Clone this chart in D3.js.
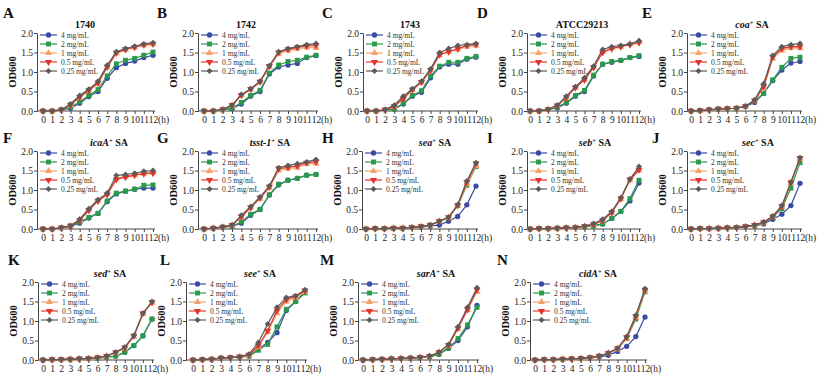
<!DOCTYPE html>
<html><head><meta charset="utf-8">
<script src="https://cdn.jsdelivr.net/npm/d3@7"></script>
<style>
body{margin:0;background:#fff;}
svg{display:block;font-family:"Liberation Serif","Times New Roman",serif;}
</style></head><body><div id="chart_wrapper"></div>
<script>
var hours = [0,1,2,3,4,5,6,7,8,9,10,11,12];
var doses = ["4 mg/mL","2 mg/mL","1 mg/mL","0.5 mg/mL","0.25 mg/mL"];
var yTicks = [0,0.5,1.0,1.5,2.0];

// rows follow doses order: 4, 2, 1, 0.5, 0.25 mg/mL
var od_1740 = [
  [0,0,0.03,0.07,0.2,0.37,0.5,0.84,1.11,1.22,1.28,1.37,1.43],
  [0,0,0.03,0.1,0.23,0.4,0.55,0.9,1.21,1.3,1.35,1.43,1.51],
  [0,0,0.03,0.15,0.35,0.52,0.7,1.12,1.48,1.57,1.63,1.69,1.71],
  [0,0,0.03,0.16,0.36,0.53,0.72,1.13,1.49,1.58,1.64,1.7,1.72],
  [0,0,0.03,0.18,0.4,0.56,0.76,1.17,1.52,1.6,1.66,1.72,1.75]];
var od_1742 = [
  [0,0,0.03,0.06,0.18,0.38,0.5,0.95,1.13,1.18,1.22,1.37,1.42],
  [0,0,0.03,0.07,0.22,0.4,0.53,0.97,1.18,1.27,1.3,1.38,1.43],
  [0,0,0.04,0.14,0.4,0.55,0.74,1.13,1.47,1.55,1.6,1.63,1.62],
  [0,0,0.04,0.15,0.41,0.56,0.75,1.15,1.5,1.58,1.63,1.67,1.68],
  [0,0,0.04,0.15,0.42,0.57,0.76,1.16,1.52,1.6,1.65,1.7,1.73]];
var od_1743 = [
  [0,0,0.03,0.05,0.18,0.38,0.48,0.85,1.13,1.2,1.2,1.33,1.38],
  [0,0,0.03,0.05,0.2,0.4,0.52,0.9,1.15,1.25,1.25,1.35,1.4],
  [0,0,0.03,0.12,0.31,0.54,0.73,1.04,1.43,1.52,1.58,1.65,1.68],
  [0,0,0.03,0.12,0.32,0.55,0.74,1.05,1.45,1.52,1.6,1.68,1.7],
  [0,0,0.03,0.15,0.38,0.57,0.76,1.08,1.5,1.6,1.68,1.7,1.73]];
var od_atcc = [
  [0,0,0.04,0.08,0.2,0.38,0.5,0.9,1.2,1.25,1.3,1.37,1.4],
  [0,0,0.04,0.1,0.22,0.4,0.53,0.92,1.2,1.27,1.3,1.37,1.42],
  [0,0,0.04,0.14,0.35,0.6,0.8,1.12,1.52,1.62,1.65,1.72,1.78],
  [0,0,0.04,0.14,0.35,0.6,0.8,1.12,1.5,1.6,1.65,1.7,1.75],
  [0,0,0.04,0.15,0.38,0.62,0.85,1.15,1.58,1.65,1.68,1.72,1.8]];
var od_coa = [
  [0,0.01,0.03,0.05,0.06,0.07,0.12,0.22,0.45,0.78,1.05,1.23,1.27],
  [0,0.01,0.03,0.05,0.06,0.07,0.12,0.25,0.45,0.8,1.12,1.35,1.38],
  [0,0.01,0.03,0.05,0.06,0.07,0.12,0.27,0.6,1.35,1.55,1.62,1.62],
  [0,0.01,0.03,0.05,0.06,0.07,0.12,0.27,0.63,1.38,1.6,1.65,1.65],
  [0,0.01,0.03,0.05,0.06,0.07,0.12,0.28,0.7,1.42,1.65,1.7,1.73]];
var od_icaA = [
  [0,0,0.03,0.07,0.15,0.28,0.4,0.7,0.9,0.97,1.02,1.05,1.05],
  [0,0,0.03,0.08,0.17,0.3,0.4,0.72,0.92,0.97,1.02,1.12,1.13],
  [0,0,0.03,0.08,0.23,0.5,0.73,0.9,1.3,1.35,1.38,1.42,1.45],
  [0,0,0.03,0.08,0.22,0.48,0.72,0.88,1.27,1.33,1.38,1.42,1.43],
  [0,0,0.03,0.08,0.25,0.52,0.75,0.92,1.37,1.4,1.43,1.48,1.5]];
var od_tsst = [
  [0,0.02,0.05,0.07,0.15,0.35,0.5,0.87,1.13,1.25,1.3,1.38,1.4],
  [0,0.02,0.05,0.07,0.18,0.38,0.5,0.88,1.15,1.25,1.3,1.38,1.4],
  [0,0.02,0.05,0.1,0.3,0.55,0.78,1.05,1.5,1.55,1.57,1.67,1.68],
  [0,0.02,0.05,0.1,0.32,0.55,0.8,1.08,1.55,1.58,1.62,1.7,1.72],
  [0,0.02,0.05,0.1,0.35,0.58,0.82,1.1,1.57,1.63,1.67,1.72,1.78]];
var od_sea = [
  [0,0.01,0.01,0.02,0.02,0.04,0.05,0.08,0.1,0.2,0.32,0.62,1.1],
  [0,0.01,0.01,0.02,0.02,0.04,0.06,0.1,0.2,0.28,0.6,1.12,1.6],
  [0,0.01,0.01,0.02,0.02,0.04,0.06,0.1,0.2,0.29,0.6,1.15,1.62],
  [0,0.01,0.01,0.02,0.02,0.04,0.06,0.1,0.2,0.3,0.61,1.2,1.68],
  [0,0.01,0.01,0.02,0.02,0.04,0.06,0.1,0.2,0.3,0.62,1.23,1.7]];
var od_seb = [
  [0,0.01,0.01,0.02,0.03,0.04,0.06,0.08,0.13,0.27,0.45,0.72,1.18],
  [0,0.01,0.01,0.02,0.03,0.04,0.06,0.08,0.13,0.27,0.45,0.78,1.25],
  [0,0.01,0.01,0.02,0.03,0.04,0.07,0.12,0.22,0.42,0.77,1.25,1.5],
  [0,0.01,0.01,0.02,0.03,0.04,0.07,0.12,0.22,0.42,0.78,1.27,1.52],
  [0,0.01,0.01,0.02,0.03,0.04,0.07,0.14,0.25,0.45,0.8,1.28,1.6]];
var od_sec = [
  [0,0.01,0.01,0.02,0.03,0.04,0.06,0.08,0.13,0.25,0.38,0.6,1.17],
  [0,0.01,0.01,0.02,0.03,0.04,0.06,0.08,0.15,0.3,0.52,1.05,1.7],
  [0,0.01,0.01,0.02,0.03,0.04,0.06,0.1,0.17,0.32,0.57,1.18,1.8],
  [0,0.01,0.01,0.02,0.03,0.04,0.06,0.1,0.17,0.32,0.58,1.2,1.82],
  [0,0.01,0.01,0.02,0.03,0.04,0.06,0.1,0.18,0.33,0.6,1.2,1.83]];
var od_sed = [
  [0,0.01,0.01,0.02,0.03,0.04,0.05,0.07,0.1,0.2,0.37,0.62,1.05],
  [0,0.01,0.01,0.02,0.03,0.04,0.05,0.07,0.1,0.2,0.37,0.62,1.05],
  [0,0.01,0.01,0.02,0.03,0.04,0.06,0.1,0.18,0.3,0.6,1.18,1.47],
  [0,0.01,0.01,0.02,0.03,0.04,0.06,0.1,0.2,0.32,0.62,1.2,1.48],
  [0,0.01,0.01,0.02,0.03,0.04,0.06,0.1,0.2,0.33,0.63,1.2,1.5]];
var od_see = [
  [0,0.01,0.02,0.05,0.06,0.08,0.1,0.28,0.45,0.7,1.27,1.5,1.75],
  [0,0.01,0.02,0.05,0.06,0.08,0.1,0.25,0.4,0.85,1.3,1.5,1.72],
  [0,0.01,0.02,0.05,0.06,0.08,0.12,0.33,0.72,1.2,1.5,1.6,1.75],
  [0,0.01,0.02,0.05,0.06,0.08,0.13,0.37,0.75,1.27,1.55,1.63,1.78],
  [0,0.01,0.02,0.05,0.06,0.08,0.15,0.45,0.92,1.35,1.6,1.65,1.8]];
var od_sarA = [
  [0,0.01,0.02,0.03,0.04,0.05,0.06,0.08,0.15,0.3,0.5,0.85,1.4],
  [0,0.01,0.02,0.03,0.04,0.05,0.06,0.08,0.15,0.3,0.55,0.9,1.35],
  [0,0.01,0.02,0.03,0.04,0.05,0.07,0.1,0.2,0.37,0.8,1.28,1.75],
  [0,0.01,0.02,0.03,0.04,0.05,0.07,0.1,0.2,0.38,0.82,1.3,1.8],
  [0,0.01,0.02,0.03,0.04,0.05,0.07,0.1,0.2,0.4,0.85,1.35,1.85]];
var od_cidA = [
  [0,0.01,0.01,0.02,0.03,0.04,0.05,0.08,0.12,0.22,0.35,0.6,1.1],
  [0,0.01,0.01,0.02,0.03,0.04,0.06,0.1,0.17,0.28,0.55,1.05,1.75],
  [0,0.01,0.01,0.02,0.03,0.04,0.06,0.1,0.18,0.28,0.55,1.1,1.78],
  [0,0.01,0.01,0.02,0.03,0.04,0.06,0.1,0.18,0.3,0.58,1.12,1.8],
  [0,0.01,0.01,0.02,0.03,0.04,0.06,0.1,0.18,0.3,0.6,1.15,1.83]];

var colors = ["#3b4aa3","#2a9a4a","#f4a26c","#e3342c","#5b5b5b"];
var shapes = [d3.symbolCircle, d3.symbolSquare, d3.symbolTriangle, d3.symbolTriangle, d3.symbolSquare];
var sizes = [22, 24, 22, 22, 18];
var rotate = [0, 0, 0, 180, 45];

// layout of each panel: axis x, x of hour 0 and 12, top of plot, letter x / baseline, title centre
var panels = [
  {letter:"A", title:[["1740","n"]], data:od_1740, ax:37, x0:43, x1:153, top:33, lx:3, ly:18, tx:85},
  {letter:"B", title:[["1742","n"]], data:od_1742, ax:198, x0:204, x1:316, top:33, lx:157, ly:18, tx:246},
  {letter:"C", title:[["1743","n"]], data:od_1743, ax:363, x0:367, x1:476, top:33, lx:322, ly:18, tx:410},
  {letter:"D", title:[["ATCC29213","n"]], data:od_atcc, ax:527, x0:530, x1:639, top:33, lx:477, ly:18, tx:582},
  {letter:"E", title:[["coa","i"],["+","s"],[" SA","n"]], data:od_coa, ax:687, x0:691, x1:800, top:33, lx:642, ly:18, tx:752},
  {letter:"F", title:[["icaA","i"],["+","s"],[" SA","n"]], data:od_icaA, ax:37, x0:43, x1:153, top:151, lx:3, ly:143, tx:109},
  {letter:"G", title:[["tsst-1","i"],["+","s"],[" SA","n"]], data:od_tsst, ax:198, x0:204, x1:316, top:151, lx:157, ly:143, tx:270},
  {letter:"H", title:[["sea","i"],["+","s"],[" SA","n"]], data:od_sea, ax:362, x0:366, x1:476, top:151, lx:322, ly:143, tx:435},
  {letter:"I", title:[["seb","i"],["+","s"],[" SA","n"]], data:od_seb, ax:527, x0:530, x1:639, top:151, lx:487, ly:143, tx:595},
  {letter:"J", title:[["sec","i"],["+","s"],[" SA","n"]], data:od_sec, ax:687, x0:691, x1:800, top:151, lx:652, ly:143, tx:758},
  {letter:"K", title:[["sed","i"],["+","s"],[" SA","n"]], data:od_sed, ax:38, x0:43, x1:152, top:282, lx:8, ly:265, tx:110},
  {letter:"L", title:[["see","i"],["+","s"],[" SA","n"]], data:od_see, ax:186, x0:193, x1:305, top:282, lx:160, ly:265, tx:260},
  {letter:"M", title:[["sarA","i"],["+","s"],[" SA","n"]], data:od_sarA, ax:358, x0:363, x1:477, top:282, lx:320, ly:265, tx:436},
  {letter:"N", title:[["cidA","i"],["+","s"],[" SA","n"]], data:od_cidA, ax:530, x0:535, x1:645, top:282, lx:497, ly:265, tx:598}
];
var plotH = 78;

var svg = d3.select("#chart_wrapper").append("svg").attr("width", 824).attr("height", 380);

panels.forEach(function(p) {
    var x = d3.scaleLinear().domain([0, 12]).range([p.x0, p.x1]);
    var y = d3.scaleLinear().domain([0, 2]).range([p.top + plotH, p.top]);
    var g = svg.append("g");

    // panel letter
    g.append("text").attr("x", p.lx).attr("y", p.ly).text(p.letter)
        .attr("font-size", 15).attr("font-weight", "bold").attr("fill", "#111");

    // title
    var t = g.append("text").attr("x", p.tx).attr("y", p.top - 5).attr("text-anchor", "middle")
        .attr("font-size", 10).attr("font-weight", "bold").attr("fill", "#111");
    p.title.forEach(function(part) {
        var ts = t.append("tspan").text(part[0]);
        if (part[1] == "i") ts.attr("font-style", "italic");
        if (part[1] == "s") ts.attr("font-size", 6.5).attr("dy", -3.5);
        if (part[1] == "n" && p.title.length > 1) ts.attr("dy", 3.5);
    });

    // y axis
    var ya = g.append("g").attr("transform", "translate(" + p.ax + ",0)")
        .call(d3.axisLeft(y).tickValues(yTicks).tickFormat(d3.format(".1f")).tickSize(3).tickSizeOuter(0));
    ya.select(".domain").attr("stroke", "#444");
    ya.selectAll(".tick line").attr("stroke", "#444");
    ya.selectAll("text").attr("font-family", "Liberation Serif").attr("font-size", 9.5).attr("fill", "#222").attr("x", -4);

    // x axis
    var xa = g.append("g").attr("transform", "translate(0," + (p.top + plotH) + ")")
        .call(d3.axisBottom(x).tickValues(hours).tickSize(3).tickSizeOuter(0));
    xa.select(".domain").remove();
    xa.append("line").attr("x1", p.ax).attr("x2", p.x1 + 2).attr("stroke", "#444");
    xa.selectAll(".tick line").attr("stroke", "#444");
    xa.selectAll("text").attr("font-family", "Liberation Serif").attr("font-size", 9.5).attr("fill", "#222").attr("y", 5);
    g.append("text").attr("x", p.x1 + 5).attr("y", p.top + plotH + 5).attr("dy", "0.71em").text("(h)")
        .attr("font-size", 9.5).attr("fill", "#222");

    // y label
    g.append("text").attr("transform", "translate(" + (p.ax - 21) + "," + (p.top + plotH / 2) + ") rotate(-90)")
        .attr("text-anchor", "middle").attr("font-size", 10.5).attr("font-weight", "bold").attr("fill", "#111")
        .text("OD600");

    // series
    var line = d3.line().x(function(d, i) { return x(hours[i]); }).y(function(d) { return y(d); });
    p.data.forEach(function(vals, k) {
        g.append("path").attr("d", line(vals)).attr("fill", "none").attr("stroke", colors[k]).attr("stroke-width", 1.2);
        g.selectAll(".m" + k).data(vals).enter().append("path")
            .attr("d", d3.symbol().type(shapes[k]).size(sizes[k]))
            .attr("transform", function(d, i) { return "translate(" + x(hours[i]) + "," + y(d) + ") rotate(" + rotate[k] + ")"; })
            .attr("fill", colors[k]);
    });

    // legend
    var lg = g.append("g").attr("transform", "translate(" + (p.ax + 3) + "," + (p.top + 2) + ")");
    doses.forEach(function(name, k) {
        var row = lg.append("g").attr("transform", "translate(0," + (k * 9) + ")");
        row.append("line").attr("x1", 0).attr("x2", 17).attr("stroke", colors[k]).attr("stroke-width", 1.2);
        row.append("path").attr("d", d3.symbol().type(shapes[k]).size(sizes[k]))
            .attr("transform", "translate(8.5,0) rotate(" + rotate[k] + ")").attr("fill", colors[k]);
        row.append("text").attr("x", 21).attr("y", 2.5).text(name).attr("font-size", 7.5).attr("fill", "#333");
    });
});
</script></body></html>
